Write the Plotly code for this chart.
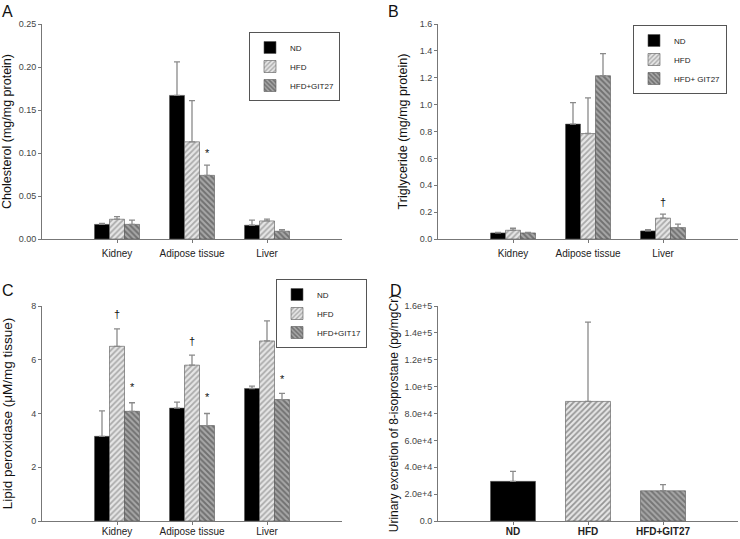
import plotly.graph_objects as go

W, H = 740, 539

categories = ["Kidney", "Adipose tissue", "Liver"]
cat_pos = [1, 2, 3]

# Panel A: Cholesterol (mg/mg protein)
chol_nd = [0.017, 0.167, 0.016]
chol_nd_err = [0.001, 0.039, 0.006]
chol_hfd = [0.023, 0.113, 0.021]
chol_hfd_err = [0.003, 0.048, 0.002]
chol_git = [0.017, 0.074, 0.009]
chol_git_err = [0.005, 0.012, 0.002]

# Panel B: Triglyceride (mg/mg protein)
tg_nd = [0.045, 0.855, 0.060]
tg_nd_err = [0.005, 0.160, 0.010]
tg_hfd = [0.065, 0.785, 0.155]
tg_hfd_err = [0.015, 0.265, 0.030]
tg_git = [0.045, 1.215, 0.085]
tg_git_err = [0.005, 0.165, 0.025]

# Panel C: Lipid peroxidase (uM/mg tissue)
lp_nd = [3.15, 4.20, 4.93]
lp_nd_err = [0.95, 0.22, 0.09]
lp_hfd = [6.50, 5.80, 6.70]
lp_hfd_err = [0.65, 0.37, 0.75]
lp_git = [4.08, 3.55, 4.52]
lp_git_err = [0.32, 0.45, 0.23]

# Panel D: Urinary 8-isoprostane (pg/mgCr)
d_groups = ["ND", "HFD", "HFD+GIT27"]
iso_vals = [29500, 89000, 22500]
iso_err = [7500, 59000, 4500]
d_ticks = [0, 20000, 40000, 60000, 80000, 100000, 120000, 140000, 160000]
d_ticktext = ["0.0", "2.0e+4", "4.0e+4", "6.0e+4", "8.0e+4", "1.0e+5", "1.2e+5", "1.4e+5", "1.6e+5"]

FONT = "Liberation Sans, Arial, sans-serif"
ERR_COL = "#8a8a8a"

styles = {
    "ND": dict(color="#000000", pattern=dict(shape="")),
    "HFD": dict(color="#e6e6e6", pattern=dict(shape="/", fgcolor="#6e6e6e", size=4, solidity=0.45)),
    "GIT": dict(color="#a8a8a8", pattern=dict(shape="\\", fgcolor="#3a3a3a", size=4, solidity=0.5)),
}

def err(vals):
    return dict(type="data", array=vals, arrayminus=[0] * len(vals), symmetric=False,
                color=ERR_COL, thickness=1.3, width=3)

fig = go.Figure()

def add_panel(xa, ya, legend, names, series):
    for key, name, (vals, errs) in zip(["ND", "HFD", "GIT"], names, series):
        st = styles[key]
        fig.add_trace(go.Bar(
            x=cat_pos, y=vals, name=name, xaxis=xa, yaxis=ya, legend=legend,
            marker=dict(color=st["color"], pattern=st["pattern"],
                        line=dict(color="#555555", width=0.6)),
            error_y=err(errs), width=0.2,
        ))

add_panel("x", "y", "legend", ["ND", "HFD", "HFD+GIT27"],
          [(chol_nd, chol_nd_err), (chol_hfd, chol_hfd_err), (chol_git, chol_git_err)])
add_panel("x2", "y2", "legend2", ["ND", "HFD", "HFD+ GIT27"],
          [(tg_nd, tg_nd_err), (tg_hfd, tg_hfd_err), (tg_git, tg_git_err)])
add_panel("x3", "y3", "legend3", ["ND", "HFD", "HFD+GIT17"],
          [(lp_nd, lp_nd_err), (lp_hfd, lp_hfd_err), (lp_git, lp_git_err)])

fig.add_trace(go.Bar(
    x=cat_pos, y=iso_vals, xaxis="x4", yaxis="y4", showlegend=False, width=0.6,
    marker=dict(color=[styles["ND"]["color"], styles["HFD"]["color"], styles["GIT"]["color"]],
                pattern=dict(shape=["", "/", "\\"], fgcolor=["#000000", "#6e6e6e", "#3a3a3a"],
                             size=4, solidity=[0.5, 0.45, 0.5]),
                line=dict(color="#555555", width=0.6)),
    error_y=err(iso_err),
))

xdom_l = [42 / W, 342 / W]
xdom_r = [438 / W, 738 / W]
ydom_t = [1 - 239 / H, 1 - 24 / H]
ydom_b = [1 - 521 / H, 1 - 306 / H]

def xaxis(dom, anchor, ticktext, bold=False, lstand=0):
    return dict(domain=dom, anchor=anchor, range=[0, 4], tickvals=cat_pos,
                ticktext=[f"<b>{t}</b>" if bold else t for t in ticktext],
                showline=True, linecolor="#777777", linewidth=1, ticks="outside",
                ticklen=3, tickcolor="#777777", showgrid=False, zeroline=False,
                ticklabelstandoff=lstand,
                tickfont=dict(size=10, color="#222222", family=FONT), automargin=False)

def yaxis(dom, anchor, rng, dtick, fmt, title, tsize=12.5, standoff=2, tickvals=None, ticktext=None):
    d = dict(domain=dom, anchor=anchor, range=rng, showline=True, linecolor="#777777",
             linewidth=1, ticks="outside", ticklen=3, tickcolor="#777777", showgrid=False,
             zeroline=False, tickfont=dict(size=9, color="#444444", family=FONT),
             title=dict(text=title, font=dict(size=tsize, color="#111111", family=FONT), standoff=standoff),
             automargin=False)
    if tickvals is not None:
        d.update(tickmode="array", tickvals=tickvals, ticktext=ticktext)
    else:
        d.update(dtick=dtick, tick0=0, tickformat=fmt)
    return d

legend_common = dict(bgcolor="rgba(255,255,255,1)", bordercolor="#555555", borderwidth=1,
                     font=dict(size=8, color="#222222", family=FONT), xanchor="right", yanchor="top",
                     tracegroupgap=0, itemwidth=30)

fig.update_layout(
    width=W, height=H, margin=dict(l=0, r=0, t=0, b=0),
    paper_bgcolor="white", plot_bgcolor="white",
    barmode="group", bargap=0.4, bargroupgap=0,
    font=dict(family=FONT),
    xaxis=xaxis(xdom_l, "y", categories, lstand=2),
    yaxis=yaxis(ydom_t, "x", [0, 0.25], 0.05, ".2f", "Cholesterol (mg/mg protein)", standoff=12),
    xaxis2=xaxis(xdom_r, "y2", categories, lstand=2),
    yaxis2=yaxis(ydom_t, "x2", [0, 1.6], 0.2, ".1f", "Triglyceride (mg/mg protein)", standoff=9),
    xaxis3=xaxis(xdom_l, "y3", categories, lstand=-2),
    yaxis3=yaxis(ydom_b, "x3", [0, 8], 2, "d", "Lipid peroxidase (μM/mg tissue)", tsize=13.5, standoff=23),
    xaxis4=xaxis(xdom_r, "y4", d_groups, bold=True, lstand=-2),
    yaxis4=yaxis(ydom_b, "x4", [0, 160000], None, None, "Urinary excretion of 8-isoprostane (pg/mgCr)",
                 tsize=12, standoff=3, tickvals=d_ticks, ticktext=d_ticktext),
    legend=dict(legend_common, x=340 / W, y=1 - 32 / H),
    legend2=dict(legend_common, x=727 / W, y=1 - 25 / H),
    legend3=dict(legend_common, x=367 / W, y=1 - 279 / H),
)

# significance markers (data coordinates: category position + group offset)
marks = [
    ("x", "y", 2 + 0.2, 0.100, "*"),
    ("x2", "y2", 3 + 0.0, 0.275, "†"),
    ("x3", "y3", 1 + 0.0, 7.70, "†"),
    ("x3", "y3", 1 + 0.2, 5.00, "*"),
    ("x3", "y3", 2 + 0.0, 6.70, "†"),
    ("x3", "y3", 2 + 0.2, 4.60, "*"),
    ("x3", "y3", 3 + 0.2, 5.30, "*"),
]
for xa, ya, xv, yv, t in marks:
    fig.add_annotation(x=xv, y=yv, xref=xa, yref=ya, text=t, showarrow=False,
                       font=dict(size=11, color="#111111", family=FONT))

# panel letters
for txt, px, py in [("A", 0, 1), ("B", 386, 1), ("C", 0, 280), ("D", 388, 280)]:
    fig.add_annotation(x=px / W, y=1 - py / H, xref="paper", yref="paper", text=txt,
                       showarrow=False, xanchor="left", yanchor="top",
                       font=dict(size=16, color="#111111", family=FONT))

fig.write_html("out.html", config={"displayModeBar": False},
               post_script="document.body.style.margin='0';")
